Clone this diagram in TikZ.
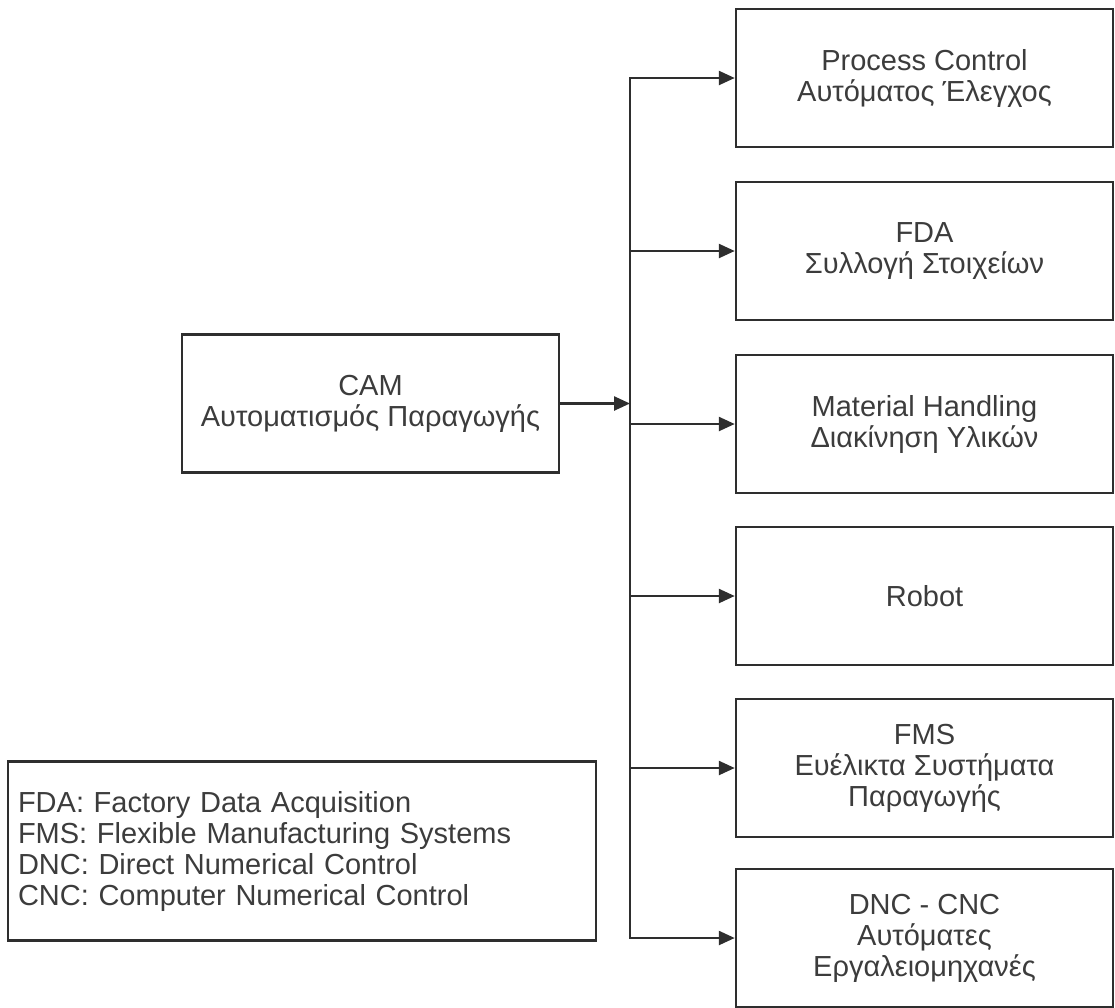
\documentclass[tikz,border=0pt]{standalone}
\usepackage{fontspec}
\setmainfont{Liberation Sans}
\usetikzlibrary{arrows.meta}
\definecolor{ink}{HTML}{2E2E2E}
\definecolor{txt}{HTML}{3C3C3C}
\begin{document}
\begin{tikzpicture}[x=1pt,y=-1pt,
  every node/.style={font=\fontsize{29}{31}\selectfont, text=txt},
  blk/.style={draw=ink, line width=2.5pt, minimum width=377pt, minimum height=138pt, align=center, inner sep=0pt},
  link/.style={draw=ink, line width=2.5pt},
  tip/.style={-{Triangle[length=16pt,width=14pt]}}]
\useasboundingbox (0,0) rectangle (1115,1007);

% source block
\node[blk] (cam) at (370.5,403.5) {CAM\\Αυτοματισμός Παραγωγής};

% target blocks
\node[blk] (pc)  at (924.5,78)  {Process Control\\Αυτόματος Έλεγχος};
\node[blk] (fda) at (924.5,251) {FDA\\Συλλογή Στοιχείων};
\node[blk] (mh)  at (924.5,424) {Material Handling\\Διακίνηση Υλικών};
\node[blk] (rb)  at (924.5,596) {Robot};
\node[blk] (fms) at (924.5,768) {FMS\\Ευέλικτα Συστήματα\\Παραγωγής};
\node[blk] (dnc) at (924.5,938) {DNC - CNC\\Αυτόματες\\Εργαλειομηχανές};

% abbreviations
\node[draw=ink, line width=2.5pt, minimum width=588pt, minimum height=179pt,
      text width=568pt, align=left, inner xsep=10pt] (leg) at (302,851)
  {FDA: Factory Data Acquisition\\
   FMS: Flexible Manufacturing Systems\\
   DNC: Direct Numerical Control\\
   CNC: Computer Numerical Control};

% distribution bus
\coordinate (bus) at (630,0);
\coordinate (top) at (bus |- pc.west);
\coordinate (bot) at (bus |- dnc.west);
\draw[link] (top) -- (bot);
\draw[link, tip] (cam.east) -- (bus |- cam.east);
\draw[link, tip, line cap=rect] (top) -- (pc.west);
\draw[link, tip] (bus |- fda.west) -- (fda.west);
\draw[link, tip] (bus |- mh.west) -- (mh.west);
\draw[link, tip] (bus |- rb.west) -- (rb.west);
\draw[link, tip] (bus |- fms.west) -- (fms.west);
\draw[link, tip, line cap=rect] (bot) -- (dnc.west);
\end{tikzpicture}
\end{document}
